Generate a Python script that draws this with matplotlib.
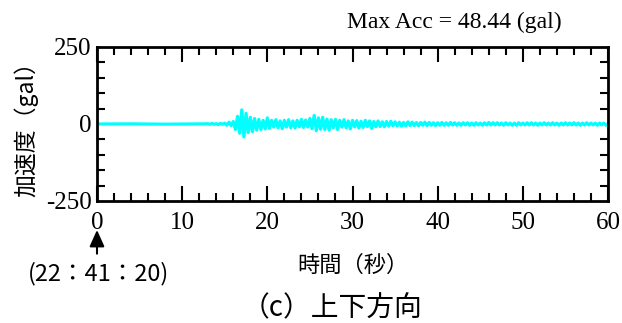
import numpy as np
import matplotlib
matplotlib.use('Agg')
import matplotlib.pyplot as plt
from matplotlib.ticker import MultipleLocator, FixedLocator

# quiet part before the event, then 0.25 s samples from 13 s to 60 s
t_pre = [0.0, 4.0, 8.0, 12.75]
a_pre = [0.0, 0.5, -0.5, 0.5]

t0_dense = 13.0
dt_dense = 0.25
a_dense = [
    1, -1, 2, -1, 1, -2, 2, -1,            # 13-15
    3, -4, 6, -5, 8, -18, 25, -30,         # 15-17
    46, -42, 35, -28, 22, -25, 18, -20,    # 17-19
    15, -18, 12, -16, 20, -14, 12, -10,    # 19-21
    14, -12, 10, -15, 12, -10, 14, -12,    # 21-23
    10, -13, 12, -9, 15, -11, 13, -10,     # 23-25
    18, -15, 28, -22, 20, -17, 22, -18,    # 25-27
    16, -20, 14, -12, 15, -18, 12, -10,    # 27-29
    14, -12, 10, -16, 12, -9, 11, -13,     # 29-31
    9, -11, 12, -8, 10, -14, 8, -9,        # 31-33
    10, -8, 7, -9, 8, -7, 9, -6,           # 33-35
    7, -6, 6, -7, 5, -6, 7, -5,            # 35-37
    6, -5, 5, -6, 5, -4, 6, -5,            # 37-39
    5, -4, 4, -5, 4, -4, 5, -4,            # 39-41
    4, -4, 5, -3, 4, -4, 3, -4,            # 41-43
    4, -3, 4, -4, 3, -4, 4, -3,            # 43-45
    3, -4, 4, -3, 5, -3, 4, -3,            # 45-47
    4, -3, 3, -4, 4, -3, 3, -4,            # 47-49
    3, -4, 4, -3, 3, -3, 4, -3,            # 49-51
    4, -3, 3, -4, 3, -3, 4, -3,            # 51-53
    3, -3, 4, -3, 3, -4, 3, -3,            # 53-55
    4, -3, 3, -3, 4, -3, 3, -4,            # 55-57
    3, -3, 4, -3, 3, -3, 3, -4,            # 57-59
    3, -3, 3, -4, 0,                       # 59-60
]

x_ticks = [0, 10, 20, 30, 40, 50, 60]
y_ticks = [-250, 0, 250]
y_ticklabels = ['-250', '0', '250']
max_acc_text = 'Max Acc = 48.44 (gal)'
start_time = '(22：41：20)'

t_dense = t0_dense + dt_dense * np.arange(len(a_dense))
t = np.concatenate([t_pre, t_dense])
a = np.concatenate([a_pre, a_dense])

serif = ['Liberation Serif', 'DejaVu Serif']
cjk = ['Noto Sans CJK JP', 'DejaVu Sans']

fig = plt.figure(figsize=(6.22, 3.23), dpi=100)
ax = fig.add_axes([97/622, 1-201/323, 511/622, 154/323])

ax.plot(t, a, color='#00ffff', lw=2.3)

ax.set_xlim(0, 60)
ax.set_ylim(-250, 250)
ax.xaxis.set_major_locator(FixedLocator(x_ticks))
ax.xaxis.set_minor_locator(MultipleLocator(2))
ax.yaxis.set_major_locator(FixedLocator(y_ticks))
ax.yaxis.set_minor_locator(MultipleLocator(50))
ax.set_yticklabels(y_ticklabels)

ax.tick_params(which='both', direction='in', top=True, right=True, width=1.5, colors='black')
ax.tick_params(axis='x', which='major', length=11, pad=8)
ax.tick_params(axis='y', which='major', length=0, pad=4)
ax.tick_params(which='minor', length=5.5)
for lab in ax.get_xticklabels() + ax.get_yticklabels():
    lab.set_fontfamily(serif)
    lab.set_fontsize(18)
for sp in ax.spines.values():
    sp.set_linewidth(2)

ax.set_xlabel('時間（秒）', family=cjk, fontsize=16, labelpad=14)
ax.set_ylabel('加速度（gal）', family=cjk, fontsize=16.5, labelpad=5)

ax.text(0.70, 1.16, max_acc_text, transform=ax.transAxes, ha='center', va='center',
        family=serif, fontsize=17)

ax.annotate('', xy=(0, -0.17), xycoords=('data', 'axes fraction'),
            xytext=(0, -0.36), textcoords=('data', 'axes fraction'),
            arrowprops=dict(arrowstyle='-|>,head_length=1.0,head_width=0.45', color='black', lw=1.5),
            annotation_clip=False)
fig.text(99/622, 1-274/323, start_time, ha='center', va='center', family=cjk, fontsize=17)

fig.text(332/622, 1-308/323, '（c）上下方向', ha='center', va='center', family=cjk, fontsize=20)

fig.savefig('out.png', dpi=100)
